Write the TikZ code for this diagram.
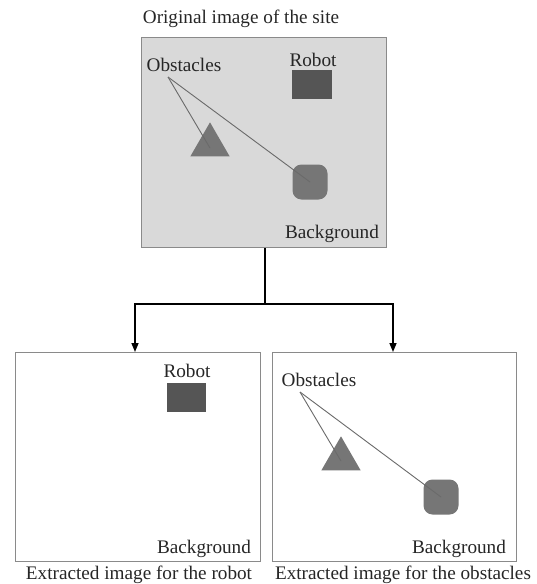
\documentclass[tikz,border=0pt]{standalone}
\usepackage{fontspec}
\setmainfont{Liberation Serif}
\usetikzlibrary{arrows.meta,shapes.geometric}
\definecolor{frameline}{HTML}{8A8A8A}
\definecolor{sitefill}{HTML}{D9D9D9}
\definecolor{robotfill}{HTML}{555555}
\definecolor{obstfill}{HTML}{767676}
\definecolor{leader}{HTML}{6A6A6A}
\begin{document}
\begin{tikzpicture}[x=1pt,y=-1pt,
  frame/.style={draw=frameline,line width=1.3pt,inner sep=0pt,anchor=north west},
  lbl/.style={font=\fontsize{19.2}{22}\selectfont,inner sep=0pt,text=black!85,yshift=-1.5pt},
  robotbox/.style={fill=robotfill,draw=none,minimum width=40pt,minimum height=29pt,inner sep=0pt},
  tri/.style={isosceles triangle,isosceles triangle apex angle=60,shape border rotate=90,fill=obstfill,draw=none,inner sep=0pt,minimum height=34pt},
  blob/.style={fill=obstfill,draw=none,rounded corners=9pt,minimum size=35pt,inner sep=0pt},
  leadline/.style={draw=leader,line width=0.9pt},
  flow/.style={draw=black,line width=1.5pt,-{Triangle[length=9pt,width=7pt]}}]
\useasboundingbox (0,0) rectangle (537,584);

% original site image
\node[frame,fill=sitefill,minimum width=245pt,minimum height=210pt] (site) at (141,37) {};
\node[lbl] (sitecap) at (241,17) {Original image of the site};
\node[lbl] (siteobs) at (184,63) {Obstacles};
\coordinate (siteobsp) at (168,77);
\node[lbl] (siterobotl) at (313,58) {Robot};
\node[robotbox] (siterobot) at (312,84) {};
\node[tri] (sitetri) at (210,145) {};
\node[blob] (siteblob) at (310,182) {};
\node[lbl] (sitebg) at (332,232) {Background};
\draw[leadline] (siteobsp) -- (210,148);
\draw[leadline] (siteobsp) -- (siteblob.center);

% extracted robot image
\node[frame,fill=white,minimum width=245pt,minimum height=209pt] (rob) at (15,352) {};
\node[lbl] (robl) at (187,369) {Robot};
\node[robotbox,minimum width=39pt] (robr) at (186.5,397.5) {};
\node[lbl] (robbg) at (204,547) {Background};
\node[lbl] (robcap) at (139,573) {Extracted image for the robot};

% extracted obstacles image
\node[frame,fill=white,minimum width=244pt,minimum height=209pt] (obs) at (272,352) {};
\node[lbl] (obsl) at (319,378) {Obstacles};
\coordinate (obsp) at (300,392);
\node[tri] (obstri) at (341,459) {};
\node[blob] (obsblob) at (441,497) {};
\node[lbl] (obsbg) at (459,547) {Background};
\node[lbl] (obscap) at (403,573) {Extracted image for the obstacles};
\draw[leadline] (obsp) -- (341,461);
\draw[leadline] (obsp) -- (obsblob.center);

% split connector
\coordinate (split) at (265,304);
\draw[line width=1.5pt] (site.south -| split) -- (split);
\draw[flow] (split) -| (135,352);
\draw[flow] (split) -| (393,352);
\end{tikzpicture}
\end{document}
